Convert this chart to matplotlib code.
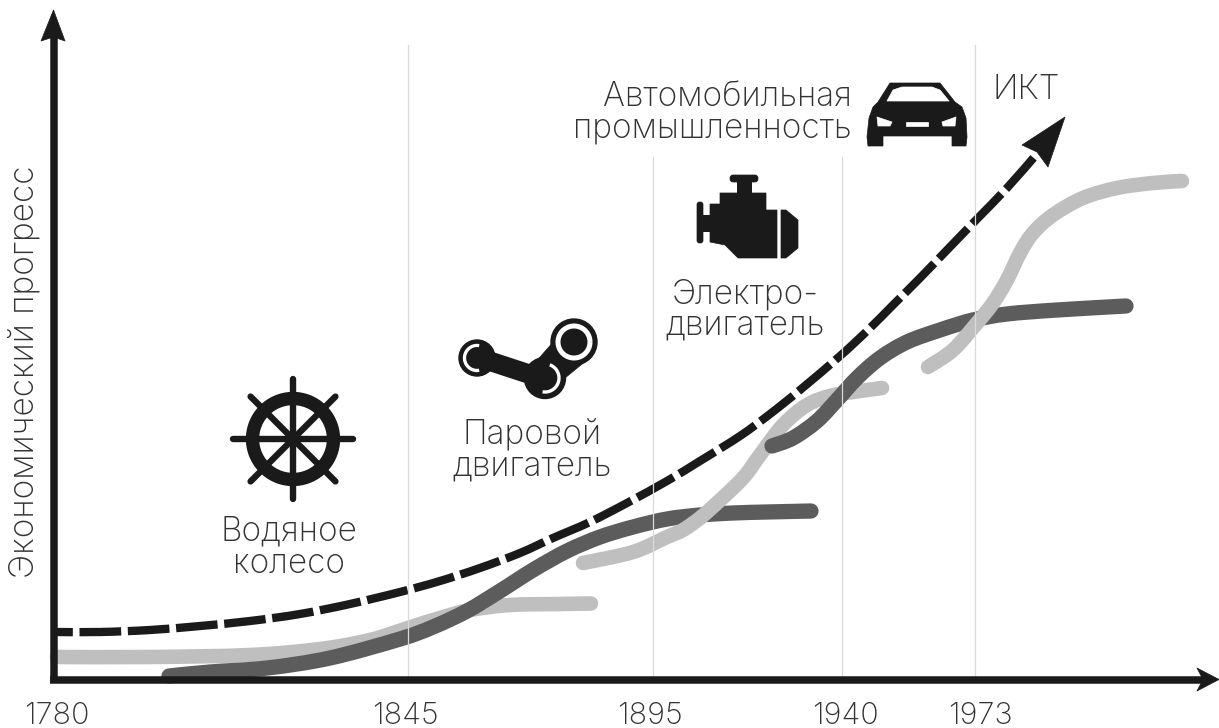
import numpy as np
import matplotlib
matplotlib.use('Agg')
import matplotlib.pyplot as plt
from matplotlib.path import Path
from matplotlib.patches import PathPatch, Polygon, Circle, FancyBboxPatch, Rectangle

# Kurven (Bildpunkte als Achseneinheiten)
ict_x = [57, 100, 150, 200, 250, 300, 350, 400, 440, 480, 520, 553, 590, 627, 667, 700, 740, 770, 800, 840, 867, 893, 920, 947, 977, 1007, 1036]
ict_y = [632, 632, 630, 626, 621, 614, 604, 592, 581, 568, 553, 538, 522, 503, 481, 461, 436, 414, 390, 356, 331, 305, 278, 250, 219, 188, 155]

water_x = [57, 150, 250, 320, 370, 408, 440, 470, 510, 560, 591]
water_y = [657, 657, 655, 649, 640, 628, 618, 610, 605, 604, 603.5]

steam_x = [169, 210, 267, 330, 400, 433, 467, 500, 533, 567, 600, 633, 667, 700, 733, 767, 811]
steam_y = [676, 672, 668, 658, 639, 627, 611, 591, 570, 551, 537, 527, 519, 515, 513, 512, 511]

electric_x = [583, 633, 667, 683, 700, 717, 743, 760, 783, 807, 830, 853, 882]
electric_y = [563, 552, 537, 530, 518, 503, 478, 455, 425, 405, 396, 392, 388]

auto_x = [772, 793, 817, 837, 857, 880, 907, 940, 973, 1007, 1057, 1126]
auto_y = [446, 438, 421, 400, 378, 358, 342, 330, 320, 314, 310, 306]

it_x = [928, 953, 977, 993, 1007, 1020, 1033, 1053, 1083, 1117, 1153, 1182]
it_y = [367, 350, 323, 303, 280, 253, 233, 215, 198, 188, 183, 181]

year_labels = ['1780', '1845', '1895', '1940', '1973']
year_pos = [57, 405, 650, 845, 980]
grid_x = [408, 653, 842, 975]
grid_top = [45, 157, 157, 45]

INK = '#1a1a1a'
LIGHT = '#bfbfbf'
DARK = '#5c5c5c'
TEXT = '#333333'
FONT = 'Inter'


def smooth_path(xs, ys):
    # Catmull-Rom als Bezier, damit die Kurven nicht eckig wirken
    pts = np.column_stack([xs, ys]).astype(float)
    verts = [pts[0]]
    codes = [Path.MOVETO]
    for i in range(len(pts) - 1):
        p0 = pts[max(i - 1, 0)]
        p1 = pts[i]
        p2 = pts[i + 1]
        p3 = pts[min(i + 2, len(pts) - 1)]
        verts += [p1 + (p2 - p0) / 6, p2 - (p3 - p1) / 6, p2]
        codes += [Path.CURVE4] * 3
    return Path(verts, codes)


def draw_curve(ax, xs, ys, color, lw, **kw):
    ax.add_patch(PathPatch(smooth_path(xs, ys), fill=False, edgecolor=color, lw=lw, **kw))


def fill(ax, pts, color=INK):
    ax.add_patch(Polygon(pts, closed=True, facecolor=color, edgecolor=color, lw=0.5, joinstyle='round'))


def ring(ax, cx, cy, r, lw, color='white', start=0, end=360):
    t = np.radians(np.linspace(start, end, 80))
    ax.plot(cx + r * np.cos(t), cy + r * np.sin(t), color=color, lw=lw, solid_capstyle='butt')


def draw_wheel(ax, cx, cy):
    for a in range(0, 180, 45):
        dx = 60 * np.cos(np.radians(a))
        dy = 60 * np.sin(np.radians(a))
        ax.plot([cx - dx, cx + dx], [cy - dy, cy + dy], color=INK, lw=4.6, solid_capstyle='round')
    ring(ax, cx, cy, 40.5, 9.6, color=INK)


def draw_steam(ax):
    ax.add_patch(Circle((477, 358), 18, color=INK))
    ax.add_patch(Circle((574, 342), 23, color=INK))
    ax.add_patch(Circle((545, 378), 20.5, color=INK))
    fill(ax, [(533, 365), (555, 340), (587, 360), (565, 378)])
    ring(ax, 574, 342, 16, 3.6)
    ring(ax, 477, 358, 12.5, 2.4, start=80, end=280)
    ring(ax, 545, 378, 14, 2.4, start=-70, end=100)
    ax.plot([477, 541], [357, 378], color=INK, lw=14, solid_capstyle='round')


def draw_engine(ax):
    ax.add_patch(FancyBboxPatch((730, 175), 28, 7, boxstyle='round,pad=0,rounding_size=3', fc=INK, ec=INK, lw=0.5))
    ax.add_patch(FancyBboxPatch((697, 202), 6, 41, boxstyle='round,pad=0,rounding_size=2.5', fc=INK, ec=INK, lw=0.5))
    ax.add_patch(Rectangle((737, 182), 15, 12, fc=INK, ec=INK, lw=0))
    ax.add_patch(Rectangle((702, 215), 9, 17, fc=INK, ec=INK, lw=0))
    fill(ax, [(710, 204), (720, 204), (720, 193), (766, 193), (766, 210), (777, 210),
              (777, 258), (738, 258), (725, 245), (710, 242)])
    fill(ax, [(781, 210), (786, 210), (798, 220), (798, 248), (786, 258), (781, 258)])


def draw_car(ax):
    fill(ax, [(890, 83), (940, 83), (955, 102), (962, 107), (966, 118), (967, 137), (966, 146),
              (952, 146), (952, 136), (883, 136), (883, 146), (868, 146), (867, 137),
              (869, 118), (873, 107), (878, 102)])
    fill(ax, [(887, 101), (893, 90), (902, 87), (932, 87), (940, 90), (949, 101)], 'white')
    fill(ax, [(877, 117), (892, 122), (890, 126), (878, 126)], 'white')
    fill(ax, [(956, 117), (942, 122), (943, 126), (955, 126)], 'white')
    fill(ax, [(906, 122), (928, 122), (928, 126), (906, 126)], 'white')


def label(ax, x, y, s, size=24, **kw):
    kw.setdefault('ha', 'center')
    ax.text(x, y, s, family=FONT, weight='light', fontsize=size, color=TEXT, va='center',
            linespacing=1.0, **kw)


fig = plt.figure(figsize=(12.19, 7.28), dpi=100)
ax = fig.add_axes([0, 0, 1, 1])
ax.set_xlim(0, 1219)
ax.set_ylim(728, 0)
ax.axis('off')

for x, top in zip(grid_x, grid_top):
    ax.plot([x, x], [top, 678], color='#d9d9d9', lw=0.9)

draw_curve(ax, water_x, water_y, LIGHT, 10.5, capstyle='round')
draw_curve(ax, steam_x, steam_y, DARK, 11, capstyle='round')
draw_curve(ax, electric_x, electric_y, LIGHT, 10.5, capstyle='round')
draw_curve(ax, auto_x, auto_y, DARK, 11, capstyle='round')
draw_curve(ax, it_x, it_y, LIGHT, 10.5, capstyle='round')
draw_curve(ax, ict_x, ict_y, INK, 6, capstyle='butt', linestyle=(3.1, (5, 0.8)))
fill(ax, [(1065, 117), (1022, 145), (1037, 152), (1048, 167)])

# Achsen mit Pfeilen
ax.plot([53.5, 53.5], [30, 683], color=INK, lw=5.4, solid_capstyle='butt')
ax.plot([50, 1205], [679.5, 679.5], color=INK, lw=5.4, solid_capstyle='butt')
fill(ax, [(53.5, 10), (41, 41), (53.5, 37), (65, 41)])
fill(ax, [(1219, 679.5), (1197, 668), (1203, 679.5), (1197, 691)])

draw_wheel(ax, 293, 439)
draw_steam(ax)
draw_engine(ax)
draw_car(ax)

label(ax, 289, 548, 'Водяное\nколесо')
label(ax, 532, 450, 'Паровой\nдвигатель')
label(ax, 745, 310, 'Электро-\nдвигатель')
label(ax, 852, 113, 'Автомобильная\nпромышленность', ha='right', multialignment='right')
label(ax, 1026, 90, 'ИКТ')
label(ax, 24, 372, 'Экономический прогресс', rotation=90)

for x, s in zip(year_pos, year_labels):
    label(ax, x, 715.5, s, size=22)

fig.savefig('out.png', dpi=100)
